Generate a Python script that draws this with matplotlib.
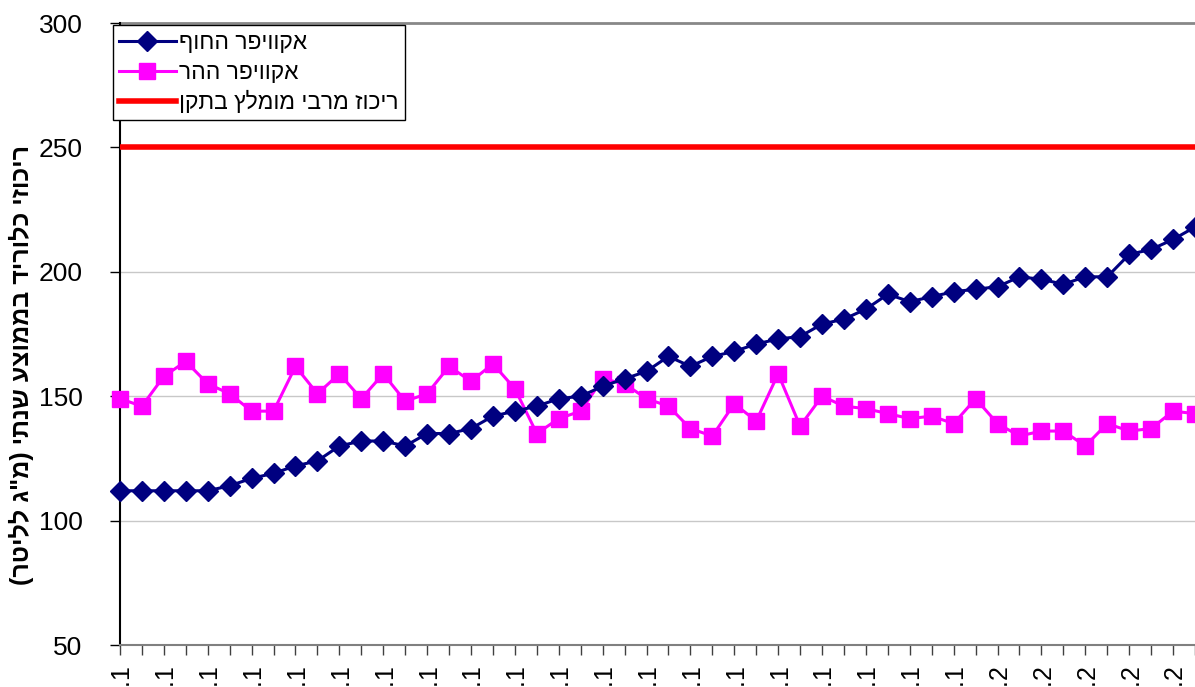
import matplotlib
matplotlib.use("Agg")
import matplotlib.pyplot as plt
import numpy as np

plt.rcParams['font.family'] = ['Liberation Sans', 'DejaVu Sans']

# years 1960..2009, one point per year
years = list(range(1960, 2010))
coastal = [112, 112, 112, 112, 112, 114, 117, 119, 122, 124,
           130, 132, 132, 130, 135, 135, 137, 142, 144, 146,
           149, 150, 154, 157, 160, 166, 162, 166, 168, 171,
           173, 174, 179, 181, 185, 191, 188, 190, 192, 193,
           194, 198, 197, 195, 198, 198, 207, 209, 213, 218]
mountain = [149, 146, 158, 164, 155, 151, 144, 144, 162, 151,
            159, 149, 159, 148, 151, 162, 156, 163, 153, 135,
            141, 144, 157, 155, 149, 146, 137, 134, 147, 140,
            159, 138, 150, 146, 145, 143, 141, 142, 139, 149,
            139, 134, 136, 136, 130, 139, 136, 137, 144, 143]
standard = 250

# hebrew strings in visual (left-to-right) order, matplotlib has no bidi
label_coastal = 'אקוויפר החוף'[::-1]
label_mountain = 'אקוויפר ההר'[::-1]
label_standard = 'ריכוז מרבי מומלץ בתקן'[::-1]
ylabel = '(רטילל ג"מ) יתנש עצוממב דירולכ יזוכיר'

yticks = [50, 100, 150, 200, 250, 300]
# the year labels are cut off in the source, only the first digit shows
xlabels = ['…' + str(y)[0] for y in years[::2]]

fig = plt.figure(figsize=(11.95, 6.87), dpi=100)
ax = fig.add_axes([0.1004, 0.0611, 0.8996, 0.9054])

x = np.arange(len(years))
ax.axhline(standard, color='#ff0000', lw=4, zorder=3, label=label_standard)
ax.plot(x, coastal, color='#000080', lw=2.2, marker='D', ms=10,
        clip_on=False, zorder=5, label=label_coastal)
ax.plot(x, mountain, color='#ff00ff', lw=2.2, marker='s', ms=11,
        clip_on=False, zorder=4, label=label_mountain)

ax.set_xlim(0, 48.95)
ax.set_ylim(50, 300)
ax.set_yticks(yticks)
ax.set_xticks(x, minor=True)
ax.set_xticks(x[::2])
ax.set_xticklabels(xlabels, rotation=90, va='top', fontsize=18)

for yv in yticks[1:-1]:
    ax.axhline(yv, color='#c8c8c8', lw=1, zorder=1)
ax.axhline(300, color='#888888', lw=2, zorder=1, clip_on=False)

ax.spines['top'].set_visible(False)
ax.spines['right'].set_visible(False)
ax.spines['left'].set_color('black')
ax.spines['left'].set_linewidth(1.5)
ax.spines['bottom'].set_color('#808080')
ax.spines['bottom'].set_linewidth(1.5)

ax.tick_params(axis='y', length=7, width=1, pad=20, labelsize=19)
ax.tick_params(axis='x', which='both', length=7, width=1, color='#404040', pad=5)

ax.set_ylabel(ylabel, fontsize=18, fontweight='bold')
ax.yaxis.set_label_coords(-0.08, 0.45)

handles, labels = ax.get_legend_handles_labels()
order = [1, 2, 0]
leg = ax.legend([handles[i] for i in order], [labels[i] for i in order],
                loc='upper left', bbox_to_anchor=(-0.0065, 0.997),
                borderaxespad=0, fontsize=16.5, frameon=True, fancybox=False,
                edgecolor='black', framealpha=1, handlelength=2.5,
                handletextpad=0.15, labelspacing=0.32, borderpad=0.25)
leg.get_frame().set_linewidth(1)
leg.set_zorder(10)

fig.savefig('out.png', dpi=100)
